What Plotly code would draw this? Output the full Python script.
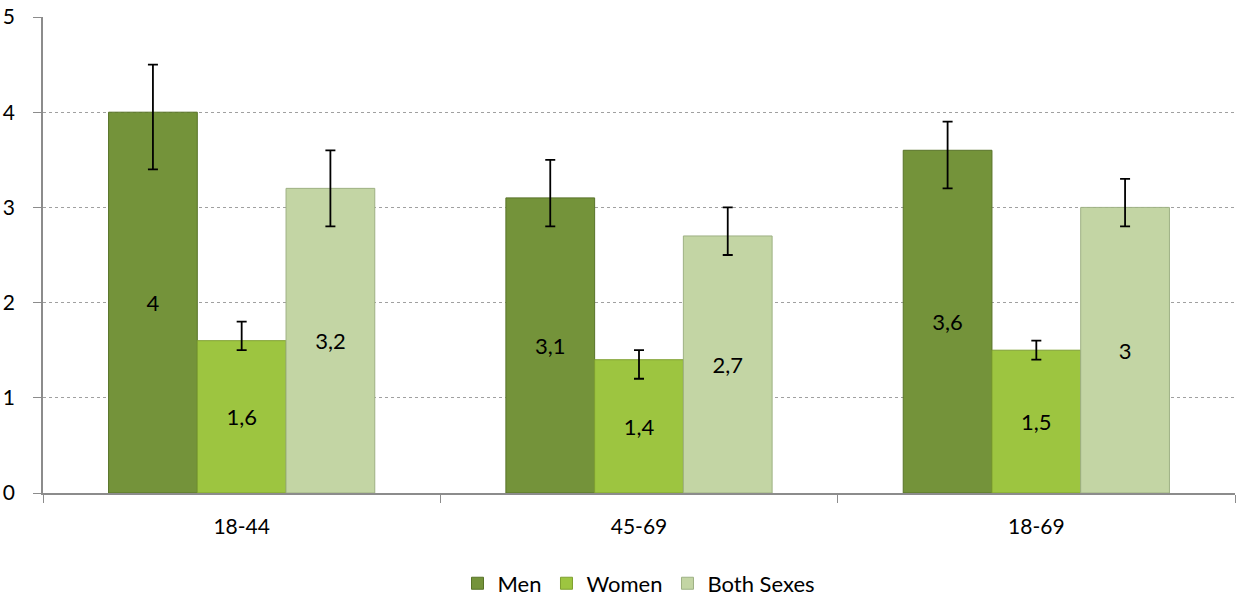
import plotly.graph_objects as go

categories = ["18-44", "45-69", "18-69"]
series_names = ["Men", "Women", "Both Sexes"]
men = [4.0, 3.1, 3.6]
women = [1.6, 1.4, 1.5]
both = [3.2, 2.7, 3.0]
men_upper = [4.5, 3.5, 3.9]
men_lower = [3.4, 2.8, 3.2]
women_upper = [1.8, 1.5, 1.6]
women_lower = [1.5, 1.2, 1.4]
both_upper = [3.6, 3.0, 3.3]
both_lower = [2.8, 2.5, 2.8]
labels_men = ["4", "3,1", "3,6"]
labels_women = ["1,6", "1,4", "1,5"]
labels_both = ["3,2", "2,7", "3"]

colors = ["#74933a", "#9dc540", "#c3d5a4"]
edge = ["#587328", "#7fa030", "#9eb184"]

font_family = "Lato, 'Open Sans', sans-serif"

fig = go.Figure()
data = [(men, men_upper, men_lower, labels_men),
        (women, women_upper, women_lower, labels_women),
        (both, both_upper, both_lower, labels_both)]
for i, (vals, up, lo, labs) in enumerate(data):
    fig.add_trace(go.Bar(
        name=series_names[i], x=categories, y=vals,
        text=labs, textposition="inside", insidetextanchor="middle",
        textangle=0,
        textfont=dict(family=font_family, size=22, color="#000000"),
        marker=dict(color=colors[i], line=dict(color=edge[i], width=1)),
        error_y=dict(type="data", symmetric=False,
                     array=[u - v for u, v in zip(up, vals)],
                     arrayminus=[v - l for v, l in zip(vals, lo)],
                     color="#000000", thickness=1.8, width=5),
    ))

fig.update_layout(
    width=1236, height=596,
    barmode="group", bargap=0.33, bargroupgap=0,
    plot_bgcolor="white", paper_bgcolor="white",
    margin=dict(l=43, r=1, t=17, b=103, autoexpand=False),
    font=dict(family=font_family, size=20, color="#000000"),
    legend=dict(orientation="h", x=0.5, xanchor="center", y=-0.19, yanchor="middle",
                font=dict(size=22), itemwidth=30, traceorder="normal"),
    uniformtext=dict(minsize=10, mode="show"),
)
fig.update_yaxes(range=[0, 5], dtick=1, showgrid=True, gridcolor="#a0a0a0",
                 griddash="dot", gridwidth=1, showline=True, linecolor="#8c8c8c",
                 linewidth=1.5, ticks="outside", ticklen=8, tickcolor="#8c8c8c",
                 tickfont=dict(size=21), zeroline=False, automargin=False,
                 ticklabelstandoff=14)
fig.update_xaxes(showline=True, linecolor="#8c8c8c", linewidth=1.5,
                 ticks="outside", tickson="boundaries", ticklen=8, tickcolor="#8c8c8c",
                 tickfont=dict(size=21), automargin=False, ticklabelstandoff=14)

fig.write_html("out.html", config={"displayModeBar": False},
               post_script="document.body.style.margin='0';document.body.style.overflow='hidden';")
